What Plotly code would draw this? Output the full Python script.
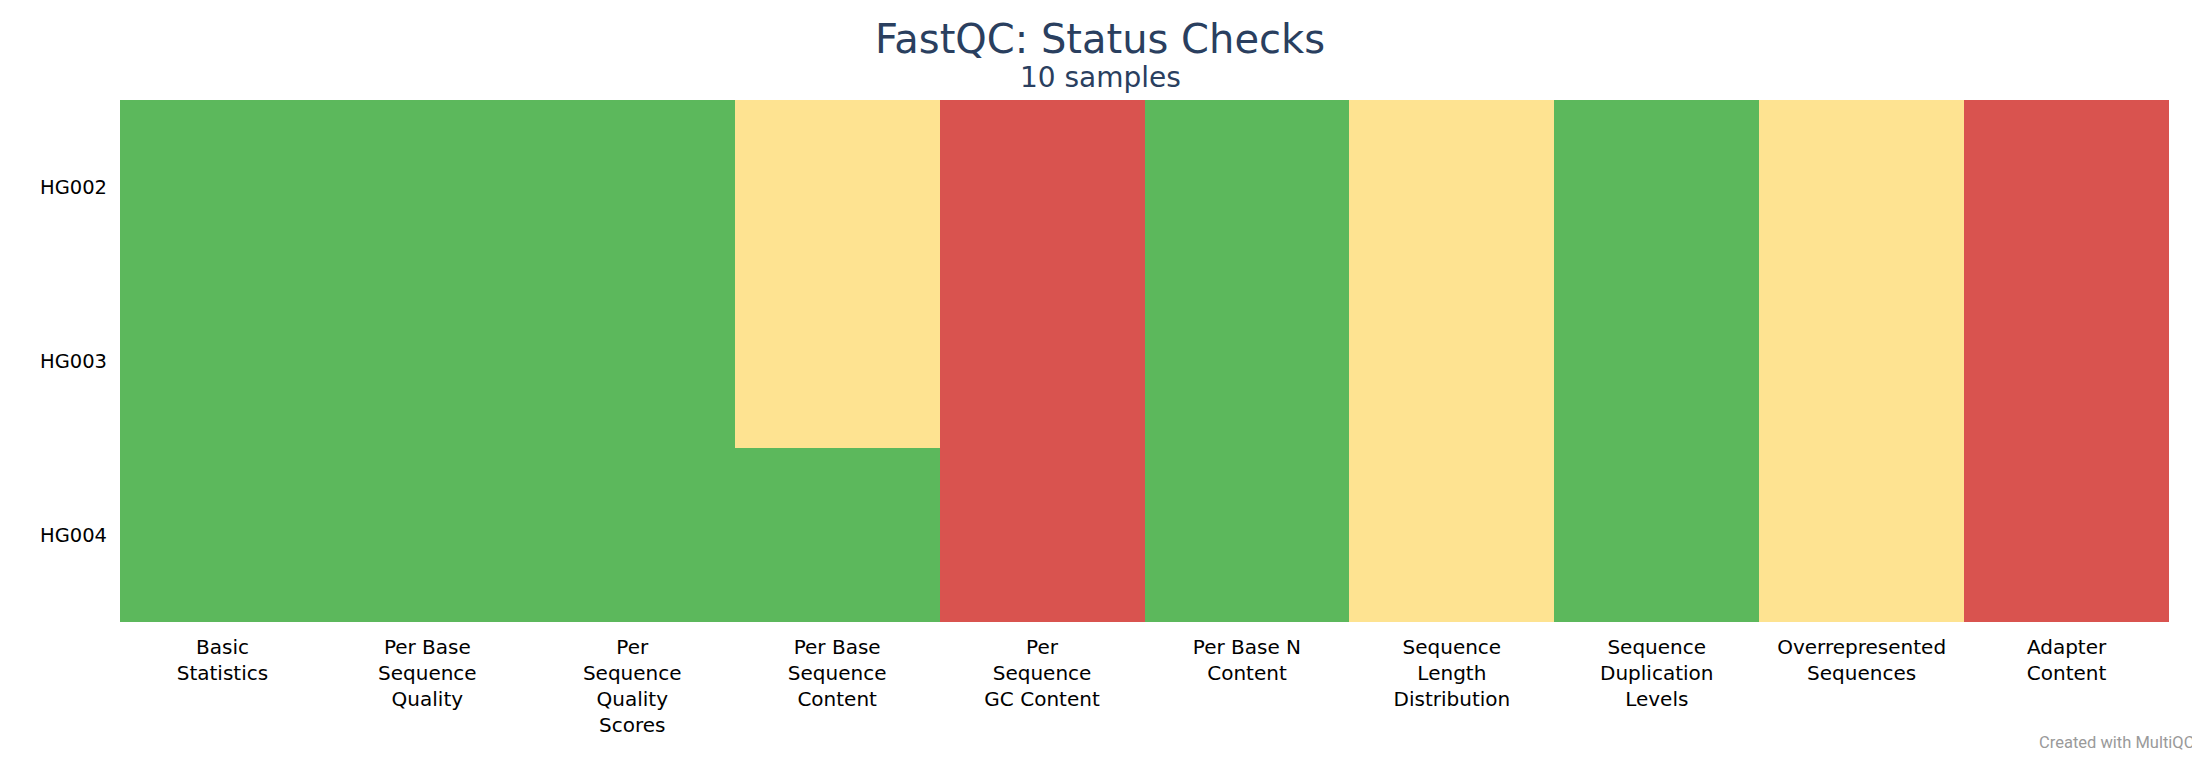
import plotly.graph_objects as go

samples = ["HG002", "HG003", "HG004"]
checks = [
    "Basic<br>Statistics",
    "Per Base<br>Sequence<br>Quality",
    "Per<br>Sequence<br>Quality<br>Scores",
    "Per Base<br>Sequence<br>Content",
    "Per<br>Sequence<br>GC Content",
    "Per Base N<br>Content",
    "Sequence<br>Length<br>Distribution",
    "Sequence<br>Duplication<br>Levels",
    "Overrepresented<br>Sequences",
    "Adapter<br>Content",
]
# status per sample (rows) per check (columns)
hg002 = ["pass", "pass", "pass", "warn", "fail", "pass", "warn", "pass", "warn", "fail"]
hg003 = ["pass", "pass", "pass", "warn", "fail", "pass", "warn", "pass", "warn", "fail"]
hg004 = ["pass", "pass", "pass", "pass", "fail", "pass", "warn", "pass", "warn", "fail"]

status_value = {"fail": 0.0, "warn": 0.5, "pass": 1.0}
status_colors = {"fail": "#d9534f", "warn": "#fee391", "pass": "#5cb85c"}

z = [[status_value[s] for s in row] for row in (hg002, hg003, hg004)]
colorscale = [
    [0.0, status_colors["fail"]], [0.25, status_colors["fail"]],
    [0.25, status_colors["warn"]], [0.75, status_colors["warn"]],
    [0.75, status_colors["pass"]], [1.0, status_colors["pass"]],
]

fig = go.Figure(
    go.Heatmap(
        z=z,
        x=checks,
        y=samples,
        colorscale=colorscale,
        zmin=0,
        zmax=1,
        showscale=False,
        xgap=0,
        ygap=0,
    )
)

L, R, T, B = 112, 39, 92, 146
W, H = 2200, 760
pw, ph = W - L - R, H - T - B

fig.update_layout(
    width=W,
    height=H,
    margin=dict(l=L, r=R, t=T, b=B, pad=0, autoexpand=False),
    paper_bgcolor="white",
    plot_bgcolor="white",
    font=dict(family="DejaVu Sans", size=19.5, color="#000000"),
    title=dict(
        text="FastQC: Status Checks",
        font=dict(size=40, color="#2a3f5f", family="DejaVu Sans"),
        x=1092 / W,
        xanchor="center",
        xref="container",
        yref="container",
        y=0.978,
        yanchor="top",
    ),
    xaxis=dict(showgrid=False, zeroline=False, ticks="", tickangle=0, showline=False,
               ticklabelstandoff=11, automargin=False, tickfont=dict(size=20)),
    yaxis=dict(showgrid=False, zeroline=False, ticks="", autorange="reversed", showline=False,
               ticklabelstandoff=12, automargin=False),
    annotations=[
        dict(
            text="10 samples",
            xref="paper", yref="paper",
            x=(1092 - L) / pw, y=1 + (T - 69) / ph,
            xanchor="center", yanchor="middle",
            showarrow=False,
            font=dict(family="DejaVu Sans", size=28, color="#2a3f5f"),
        ),
        dict(
            text="Created with MultiQC",
            xref="paper", yref="paper",
            x=(2188 - L) / pw, y=-(746 - (H - B)) / ph,
            xanchor="right", yanchor="bottom",
            showarrow=False,
            font=dict(family="Roboto", size=16.5, color="#9a9a9a"),
        ),
    ],
)

fig.write_html("out.html")
